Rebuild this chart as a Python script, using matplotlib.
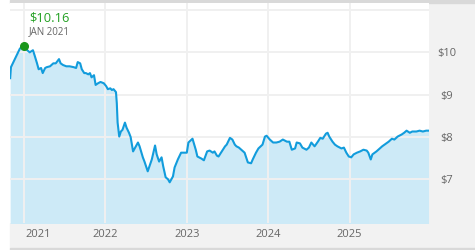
import matplotlib
matplotlib.use("Agg")
from matplotlib import pyplot as plt
from matplotlib.patches import Rectangle
from matplotlib.transforms import ScaledTranslation

# price history, decimal years vs dollars
years = [2020.83, 2020.84, 2020.87, 2020.91, 2020.95, 2021.00, 2021.04, 2021.07,
         2021.11, 2021.13, 2021.16, 2021.18, 2021.21, 2021.23, 2021.26, 2021.28,
         2021.32, 2021.36, 2021.39, 2021.43, 2021.45, 2021.48, 2021.52, 2021.56,
         2021.61, 2021.64, 2021.66, 2021.69, 2021.71, 2021.74, 2021.76, 2021.79,
         2021.81, 2021.83, 2021.86, 2021.88, 2021.91, 2021.94, 2021.98, 2022.01,
         2022.03, 2022.06, 2022.08, 2022.10, 2022.13, 2022.14, 2022.15, 2022.17,
         2022.19, 2022.21, 2022.24, 2022.26, 2022.29, 2022.31, 2022.34, 2022.40,
         2022.42, 2022.46, 2022.48, 2022.52, 2022.57, 2022.61, 2022.63, 2022.66,
         2022.69, 2022.71, 2022.74, 2022.77, 2022.79, 2022.83, 2022.85, 2022.89,
         2022.93, 2022.95, 2023.00, 2023.02, 2023.06, 2023.07, 2023.11, 2023.13,
         2023.18, 2023.21, 2023.25, 2023.28, 2023.32, 2023.34, 2023.37, 2023.39,
         2023.43, 2023.47, 2023.49, 2023.53, 2023.56, 2023.59, 2023.61, 2023.64,
         2023.67, 2023.71, 2023.75, 2023.79, 2023.81, 2023.85, 2023.88, 2023.93,
         2023.96, 2023.98, 2024.02, 2024.06, 2024.10, 2024.14, 2024.18, 2024.23,
         2024.26, 2024.29, 2024.33, 2024.35, 2024.39, 2024.42, 2024.47, 2024.50,
         2024.53, 2024.57, 2024.61, 2024.64, 2024.67, 2024.71, 2024.73, 2024.75,
         2024.79, 2024.82, 2024.85, 2024.90, 2024.93, 2024.96, 2024.99, 2025.02,
         2025.05, 2025.09, 2025.13, 2025.17, 2025.21, 2025.23, 2025.26, 2025.28,
         2025.33, 2025.37, 2025.40, 2025.45, 2025.48, 2025.52, 2025.55, 2025.59,
         2025.64, 2025.67, 2025.70, 2025.74, 2025.77, 2025.82, 2025.86, 2025.90,
         2025.94, 2025.97]
prices = [9.39, 9.65, 9.77, 9.93, 10.09, 10.16, 10.05, 10.00,
          10.05, 9.93, 9.74, 9.60, 9.63, 9.51, 9.63, 9.65,
          9.67, 9.74, 9.74, 9.84, 9.74, 9.70, 9.67, 9.67,
          9.65, 9.63, 9.77, 9.74, 9.60, 9.51, 9.51, 9.48,
          9.51, 9.41, 9.46, 9.23, 9.27, 9.30, 9.27, 9.20,
          9.13, 9.15, 9.11, 9.13, 9.06, 8.80, 8.34, 8.01,
          8.13, 8.17, 8.34, 8.22, 8.10, 8.00, 7.66, 7.87,
          7.78, 7.52, 7.42, 7.19, 7.47, 7.80, 7.59, 7.42,
          7.52, 7.31, 7.05, 7.00, 6.93, 7.07, 7.28, 7.47,
          7.63, 7.63, 7.63, 7.87, 7.94, 7.96, 7.70, 7.54,
          7.49, 7.45, 7.66, 7.68, 7.63, 7.66, 7.56, 7.54,
          7.66, 7.78, 7.82, 7.98, 7.94, 7.82, 7.78, 7.75,
          7.70, 7.63, 7.40, 7.38, 7.47, 7.63, 7.73, 7.82,
          8.01, 8.03, 7.94, 7.87, 7.87, 7.89, 7.94, 7.89,
          7.89, 7.70, 7.73, 7.87, 7.85, 7.75, 7.70, 7.75,
          7.87, 7.78, 7.89, 7.98, 7.96, 8.08, 8.10, 8.01,
          7.89, 7.82, 7.78, 7.73, 7.75, 7.63, 7.54, 7.52,
          7.59, 7.63, 7.66, 7.70, 7.68, 7.63, 7.47, 7.59,
          7.66, 7.73, 7.78, 7.85, 7.89, 7.96, 7.94, 8.01,
          8.06, 8.10, 8.15, 8.10, 8.13, 8.13, 8.15, 8.13,
          8.15, 8.15]

peak_label = "$10.16"
peak_date = "JAN 2021"
year_ticks = [2021, 2022, 2023, 2024, 2025]
year_labels = ["2021", "2022", "2023", "2024", "2025"]
price_ticks = [7, 8, 9, 10, 11]
price_labels = ["$7", "$8", "$9", "$10", ""]

plt.rcParams["font.family"] = ["Open Sans", "DejaVu Sans"]

W, H = 475, 250
fig = plt.figure(figsize=(W / 100, H / 100), dpi=100)


def px_rect(x0, y0, x1, y1, color):
    # rectangle in figure pixels, y measured from the top
    fig.patches.append(Rectangle((x0 / W, 1 - y1 / H), (x1 - x0) / W, (y1 - y0) / H,
                                 transform=fig.transFigure, color=color, zorder=-10))


px_rect(429, 3, 475, 248, "#f2f2f2")
px_rect(10, 223, 475, 248, "#f2f2f2")
px_rect(10, 248, 475, 250, "#d9d9d9")
px_rect(10, 0, 475, 3, "#d9d9d9")

ax = fig.add_axes([10 / W, 27 / H, 419 / W, 220 / H])
ax.set_facecolor("white")
for s in ax.spines.values():
    s.set_visible(False)

ax.fill_between(years, prices, 5.0, color="#cdeaf7", lw=0, zorder=1)
ax.plot(years, prices, color="#129cdc", lw=1.5, zorder=3)

# peak marker and label
i_max = prices.index(max(prices))
ax.plot(years[i_max], prices[i_max], "o", color="#1a961a", markersize=5.5, zorder=4)
ax.annotate(peak_label, (years[i_max], prices[i_max]), xytext=(3.6, 17.5),
            textcoords="offset points", color="#22a022", fontsize=9.3,
            va="baseline", ha="left")
ax.annotate(peak_date, (years[i_max], prices[i_max]), xytext=(3.6, 8.2),
            textcoords="offset points", color="#666666", fontsize=7,
            va="baseline", ha="left")

ax.set_xlim(2021 - 14 / 81.4, 2021 + 405 / 81.4)
ax.set_ylim(7 - 43.7 / 42.4, 11 + 7 / 42.4)

ax.set_xticks(year_ticks)
ax.set_xticklabels(year_labels, fontsize=8, color="#666666")
ax.set_yticks(price_ticks)
ax.set_yticklabels(price_labels, fontsize=8, color="#666666", ha="center")
ax.yaxis.tick_right()
ax.tick_params(axis="both", length=0)
ax.tick_params(axis="y", pad=13)
ax.tick_params(axis="x", pad=4)
ax.grid(True, color="#f0f0f0", lw=1.4, zorder=2)
ax.set_axisbelow(False)

# first year label sits a bit right of its gridline
lab0 = ax.get_xticklabels()[0]
lab0.set_transform(lab0.get_transform() + ScaledTranslation(0.14, 0, fig.dpi_scale_trans))

fig.savefig("out.png", dpi=100)
